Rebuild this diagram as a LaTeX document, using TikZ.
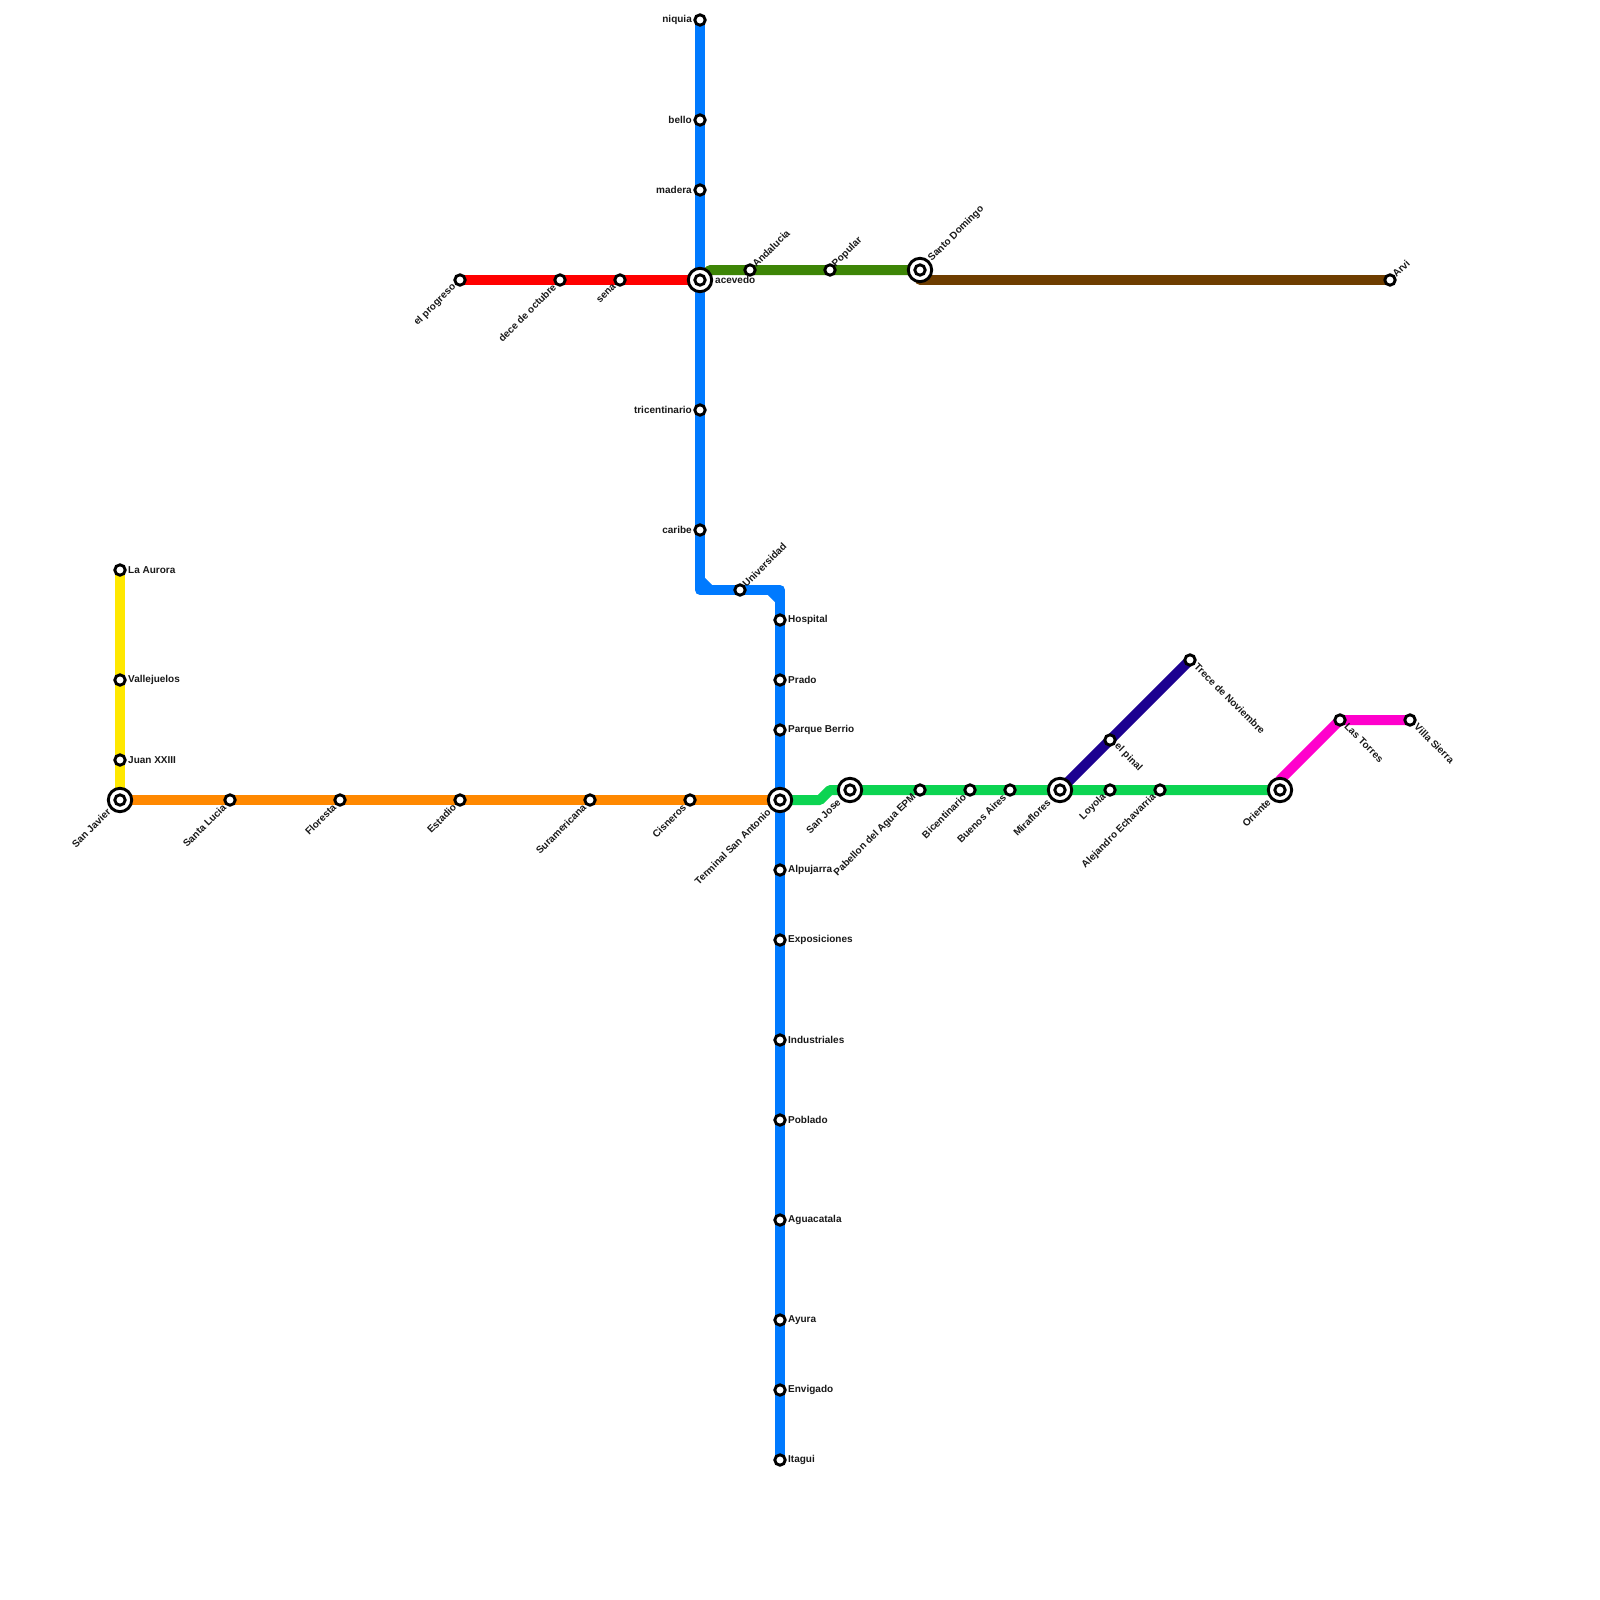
\documentclass[tikz,border=0pt]{standalone}
\usepackage{fontspec}
\setmainfont{Liberation Sans}
\usetikzlibrary{backgrounds}
\definecolor{cblue}{RGB}{0,122,255}
\definecolor{cred}{RGB}{255,0,0}
\definecolor{corange}{RGB}{255,136,0}
\definecolor{cyellow}{RGB}{255,232,0}
\definecolor{cgreen}{RGB}{12,212,82}
\definecolor{cdgreen}{RGB}{61,133,6}
\definecolor{cbrown}{RGB}{110,61,0}
\definecolor{cnavy}{RGB}{28,0,144}
\definecolor{cmag}{RGB}{255,0,204}
\tikzset{
  st/.style={circle,draw=black,fill=white,line width=2.9pt,minimum size=10.4pt,inner sep=0pt},
  hub/.style={circle,draw=black,fill=white,line width=2.9pt,minimum size=23.4pt,inner sep=0pt},
  lbl/.style={font=\fontsize{10pt}{10pt}\selectfont\bfseries,text=black!90,inner sep=0pt},
  lr/.style={lbl,anchor=west,xshift=8pt,yshift=0.2pt},
  ll/.style={lbl,anchor=east,xshift=-8pt,yshift=0.2pt},
  lur/.style={lbl,anchor=west,xshift=4pt,yshift=4.5pt,rotate=45},
  ldl/.style={lbl,anchor=east,xshift=-5.5pt,yshift=-5.5pt,rotate=45},
  ldr/.style={lbl,anchor=west,xshift=6pt,yshift=-5pt,rotate=-45},
  hur/.style={lbl,anchor=west,xshift=10pt,yshift=10pt,rotate=45},
  hdl/.style={lbl,anchor=east,xshift=-11pt,yshift=-10.5pt,rotate=45},
  hr/.style={lbl,anchor=west,xshift=15pt},
  ln/.style={line width=10pt,line join=round,line cap=round},
}
\newcommand{\stn}[4]{\node[st] (#1) at (#2) {}; \node[#3] (#1-l) at (#2) {#4};}
\newcommand{\hbn}[4]{\node[hub] (#1) at (#2) {}; \node[st] (#1-c) at (#2) {}; \node[#3] (#1-l) at (#2) {#4};}
\begin{document}
\begin{tikzpicture}[x=1pt,y=-1pt]
\useasboundingbox (0,0) rectangle (1600,1600);
% Interchanges
\hbn{acevedo}{700,280}{hr}{acevedo}
\hbn{terminal}{780,800}{hdl}{Terminal San Antonio}
\hbn{javier}{120,800}{hdl}{San Javier}
\hbn{domingo}{920,270}{hur}{Santo Domingo}
\hbn{jose}{850,790}{hdl}{San Jose}
\hbn{miraflores}{1060,790}{hdl}{Miraflores}
\hbn{oriente}{1280,790}{hdl}{Oriente}
% Blue north
\stn{niquia}{700,20}{ll}{niquia}
\stn{bello}{700,120}{ll}{bello}
\stn{madera}{700,190}{ll}{madera}
\stn{tricentinario}{700,410}{ll}{tricentinario}
\stn{caribe}{700,530}{ll}{caribe}
\stn{universidad}{740,590}{lur}{Universidad}
\stn{hospital}{780,620}{lr}{Hospital}
\stn{prado}{780,680}{lr}{Prado}
\stn{berrio}{780,730}{lr}{Parque Berrio}
\stn{alpujarra}{780,870}{lr}{Alpujarra}
\stn{exposiciones}{780,940}{lr}{Exposiciones}
\stn{industriales}{780,1040}{lr}{Industriales}
\stn{poblado}{780,1120}{lr}{Poblado}
\stn{aguacatala}{780,1220}{lr}{Aguacatala}
\stn{ayura}{780,1320}{lr}{Ayura}
\stn{envigado}{780,1390}{lr}{Envigado}
\stn{itagui}{780,1460}{lr}{Itagui}
% Red
\stn{progreso}{460,280}{ldl}{el progreso}
\stn{octubre}{560,280}{ldl}{dece de octubre}
\stn{sena}{620,280}{ldl}{sena}
% Dark green, brown
\stn{andalucia}{750,270}{lur}{Andalucia}
\stn{popular}{830,270}{lur}{Popular}
\stn{arvi}{1390,280}{lur}{Arvi}
% Yellow
\stn{aurora}{120,570}{lr}{La Aurora}
\stn{vallejuelos}{120,680}{lr}{Vallejuelos}
\stn{juan}{120,760}{lr}{Juan XXIII}
% Orange
\stn{lucia}{230,800}{ldl}{Santa Lucia}
\stn{floresta}{340,800}{ldl}{Floresta}
\stn{estadio}{460,800}{ldl}{Estadio}
\stn{suramericana}{590,800}{ldl}{Suramericana}
\stn{cisneros}{690,800}{ldl}{Cisneros}
% Green
\stn{pabellon}{920,790}{ldl}{Pabellon del Agua EPM}
\stn{bicentinario}{970,790}{ldl}{Bicentinario}
\stn{buenos}{1010,790}{ldl}{Buenos Aires}
\stn{loyola}{1110,790}{ldl}{Loyola}
\stn{alejandro}{1160,790}{ldl}{Alejandro Echavarria}
% Navy, magenta
\stn{pinal}{1110,740}{ldr}{el pinal}
\stn{trece}{1190,660}{ldr}{Trece de Noviembre}
\stn{torres}{1340,720}{ldr}{Las Torres}
\stn{sierra}{1410,720}{ldr}{Villa Sierra}
% Bend points
\coordinate (b1) at (700,590);
\coordinate (b1a) at (700,580);
\coordinate (b1b) at (710,590);
\coordinate (b2) at (780,590);
\coordinate (b2a) at (770,590);
\coordinate (b2b) at (780,600);
\coordinate (g1) at (820,800);
\coordinate (g2) at (830,790);
\coordinate (d1) at (710,270);
\coordinate (m1) at (1280,780);
\coordinate (br) at (920,280);
\begin{scope}[on background layer]
\draw[ln,cyellow] (aurora.center) -- (javier.center);
\draw[ln,corange] (javier.center) -- (terminal.center);
\draw[ln,cred] (progreso.center) -- (acevedo.center);
\draw[ln,cbrown] (domingo.center) -- (br) -- (arvi.center);
\draw[ln,cdgreen] (acevedo.center) -- (d1) -- (domingo.center);
\draw[ln,cnavy] (miraflores.center) -- (trece.center);
\draw[ln,cmag] (oriente.center) -- (m1) -- (torres.center) -- (sierra.center);
\draw[ln,cgreen] (terminal.center) -- (g1) -- (g2) -- (oriente.center);
\draw[ln,cblue] (niquia.center) -- (b1) -- (b2) -- (itagui.center);
\fill[cblue] (b1a) -- (b1b) -- (b1) -- cycle;
\fill[cblue] (b2a) -- (b2b) -- (b2) -- cycle;
\draw[ln,cblue] (b1a) -- (b1b);
\draw[ln,cblue] (b2a) -- (b2b);
\end{scope}
\end{tikzpicture}
\end{document}
